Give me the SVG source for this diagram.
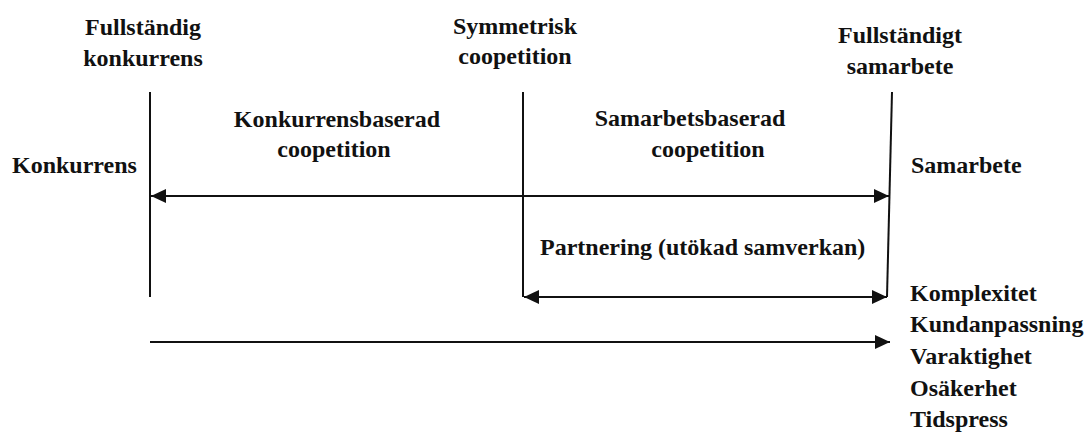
<svg xmlns="http://www.w3.org/2000/svg" width="1091" height="432" viewBox="0 0 1091 432">
<style>
  text { font-family: "Liberation Serif", "Times New Roman", serif; font-weight: bold; font-size: 24px; fill: #111; }
  .c { text-anchor: middle; }
  .ln { stroke: #111; stroke-width: 2; fill: none; }
</style>
<defs>
  <marker id="ah" markerUnits="userSpaceOnUse" markerWidth="16" markerHeight="14" refX="15" refY="7" orient="auto-start-reverse">
    <path d="M0,0 L15,7 L0,14 Z" fill="#111"/>
  </marker>
</defs>
<rect width="1091" height="432" fill="#fff"/>
<g id="dividers">
  <line class="ln" x1="150" y1="92" x2="150" y2="297"/>
  <line class="ln" x1="523" y1="92" x2="523" y2="297"/>
  <line class="ln" x1="892" y1="92" x2="887" y2="297"/>
</g>
<g id="connectors">
  <line class="ln" x1="151" y1="196" x2="889" y2="196" marker-start="url(#ah)" marker-end="url(#ah)"/>
  <line class="ln" x1="524" y1="297" x2="887" y2="297" marker-start="url(#ah)" marker-end="url(#ah)"/>
  <line class="ln" x1="150" y1="342" x2="890" y2="342" marker-end="url(#ah)"/>
</g>
<g id="full-konkurrens">
  <text class="c" x="143" y="35">Fullständig</text>
  <text class="c" x="143" y="66">konkurrens</text>
</g>
<g id="symmetrisk">
  <text class="c" x="515" y="34">Symmetrisk</text>
  <text class="c" x="515" y="64">coopetition</text>
</g>
<g id="full-samarbete">
  <text class="c" x="900" y="43">Fullständigt</text>
  <text class="c" x="900" y="74">samarbete</text>
</g>
<g id="konkurrensbaserad">
  <text class="c" x="337" y="127">Konkurrensbaserad</text>
  <text class="c" x="334" y="157">coopetition</text>
</g>
<g id="samarbetsbaserad">
  <text class="c" x="690" y="126">Samarbetsbaserad</text>
  <text class="c" x="708" y="157">coopetition</text>
</g>
<g id="konkurrens">
  <text x="12" y="173">Konkurrens</text>
</g>
<g id="samarbete">
  <text x="911" y="173">Samarbete</text>
</g>
<g id="partnering">
  <text x="540" y="255">Partnering (utökad samverkan)</text>
</g>
<g id="factors">
  <text x="910" y="301">Komplexitet</text>
  <text x="910" y="332">Kundanpassning</text>
  <text x="910" y="364">Varaktighet</text>
  <text x="910" y="396">Osäkerhet</text>
  <text x="910" y="427">Tidspress</text>
</g>
</svg>
